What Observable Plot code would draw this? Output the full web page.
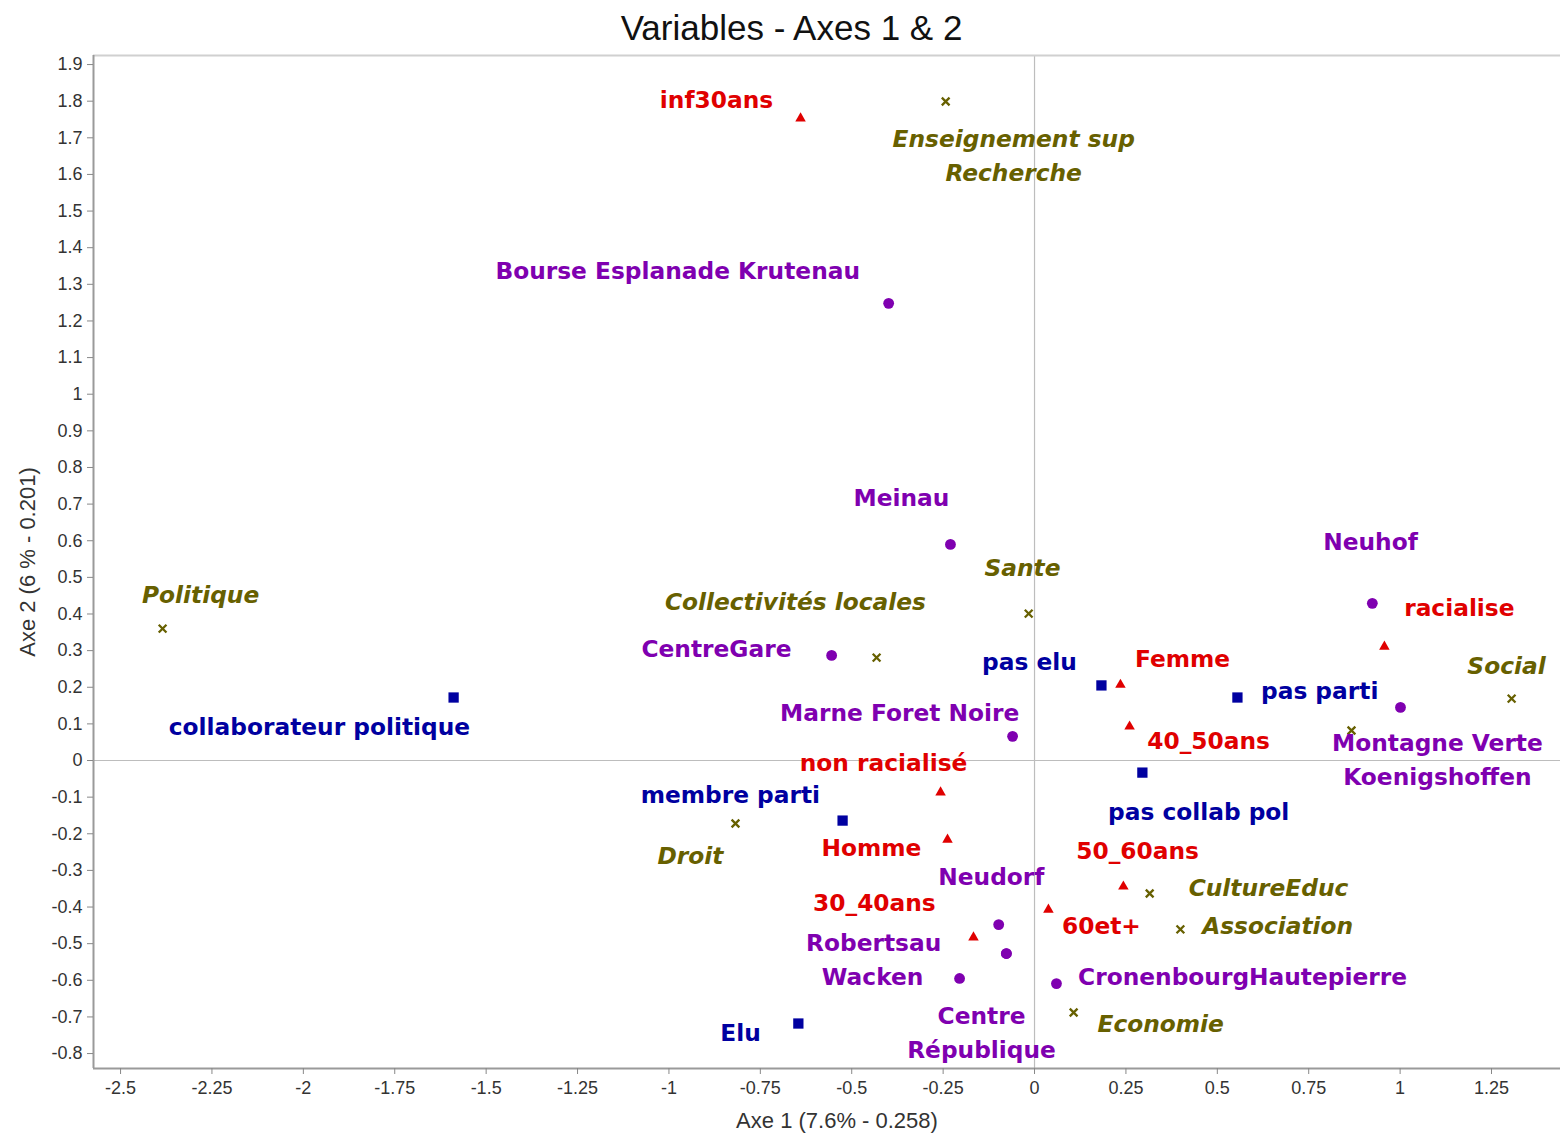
<!DOCTYPE html>
<html>
<head>
<meta charset="utf-8">
<script src="https://cdn.jsdelivr.net/npm/d3@7"></script>
<script src="https://cdn.jsdelivr.net/npm/@observablehq/plot@0.6"></script>
<style>
  body { margin: 0; background: #fff; }
  #title { width: 1561px; height: 50px; box-sizing: border-box; padding-left: 22px; text-align: center;
           font-family: "Liberation Sans", Arial, sans-serif; font-size: 35px; line-height: 56px; color: #111; }
  svg { display: block; }
</style>
</head>
<body>
<div id="title">Variables - Axes 1 &amp; 2</div>
<div id="chart"></div>
<script>
// ---- Data ----
const xTicks = [-2.5, -2.25, -2, -1.75, -1.5, -1.25, -1, -0.75, -0.5, -0.25, 0, 0.25, 0.5, 0.75, 1, 1.25];
const yTicks = [1.9, 1.8, 1.7, 1.6, 1.5, 1.4, 1.3, 1.2, 1.1, 1, 0.9, 0.8, 0.7, 0.6, 0.5, 0.4, 0.3, 0.2, 0.1, 0,
                -0.1, -0.2, -0.3, -0.4, -0.5, -0.6, -0.7, -0.8];
const xDomain = [-2.574, 1.4387];
const yDomain = [-0.8408, 1.9247];
const xTitle = "Axe 1 (7.6% - 0.258)";
const yTitle = "Axe 2 (6 % - 0.201)";

// Red triangles: age, gender, racialisation
const ageNames  = ["inf30ans", "racialise", "Femme", "40_50ans", "non racialisé", "Homme", "50_60ans", "60et+", "30_40ans"];
const ageX      = [-0.640, 0.957, 0.235, 0.260, -0.257, -0.238, 0.243, 0.038, -0.167];
const ageY      = [1.753, 0.311, 0.207, 0.093, -0.087, -0.216, -0.344, -0.407, -0.483];
const ageLabelX = [-0.870, 1.162, 0.405, 0.476, -0.413, -0.446, 0.282, 0.183, -0.438];
const ageLabelY = [1.802, 0.415, 0.276, 0.052, -0.008, -0.238, -0.248, -0.453, -0.390];

// Blue squares: elected / party / collaborator
const polNames  = ["collaborateur politique", "pas elu", "pas parti", "pas collab pol", "membre parti", "Elu"];
const polX      = [-1.589, 0.183, 0.555, 0.295, -0.525, -0.646];
const polY      = [0.172, 0.205, 0.172, -0.033, -0.164, -0.718];
const polLabelX = [-1.956, -0.014, 0.780, 0.449, -0.832, -0.804];
const polLabelY = [0.090, 0.268, 0.188, -0.142, -0.096, -0.745];

// Purple circles: districts
const qNames  = ["Bourse Esplanade Krutenau", "Meinau", "Neuhof", "CentreGare", "Montagne Verte\nKoenigshoffen",
                 "Marne Foret Noire", "Neudorf", "Robertsau", "Wacken", "CronenbourgHautepierre", "Centre\nRépublique"];
const qX      = [-0.399, -0.230, 0.924, -0.555, 1.001, -0.060, -0.098, -0.077, -0.205, 0.060, -0.077];
const qY      = [1.248, 0.590, 0.429, 0.287, 0.145, 0.066, -0.448, -0.527, -0.595, -0.609, -0.527];
const qLabelX = [-0.976, -0.364, 0.919, -0.870, 1.102, -0.369, -0.118, -0.440, -0.443, 0.569, -0.145];
const qLabelY = [1.335, 0.715, 0.595, 0.303, 0.000, 0.128, -0.319, -0.500, -0.592, -0.592, -0.745];

// Olive crosses: sectors
const sNames  = ["Enseignement sup\nRecherche", "Politique", "Sante", "Collectivités locales", "Social", "",
                 "Droit", "CultureEduc", "Association", "Economie"];
const sX      = [-0.243, -2.385, -0.016, -0.432, 1.305, 0.867, -0.818, 0.315, 0.399, 0.107];
const sY      = [1.799, 0.360, 0.401, 0.281, 0.169, 0.082, -0.172, -0.363, -0.461, -0.688];
const sLabelX = [-0.057, -2.281, -0.033, -0.654, 1.291, 0.867, -0.941, 0.640, 0.665, 0.345];
const sLabelY = [1.649, 0.450, 0.524, 0.431, 0.257, 0.082, -0.262, -0.349, -0.453, -0.721];

// ---- Build tables ----
const table = (names, xs, ys, lxs, lys) => names.map((name, i) => ({name, x: xs[i], y: ys[i], lx: lxs[i], ly: lys[i]}));
const age = table(ageNames, ageX, ageY, ageLabelX, ageLabelY);
const pol = table(polNames, polX, polY, polLabelX, polLabelY);
const quart = table(qNames, qX, qY, qLabelX, qLabelY);
const sect = table(sNames, sX, sY, sLabelX, sLabelY);

const RED = "#e00000", BLUE = "#0000a0", PURPLE = "#7f00b0", OLIVE = "#676000";
const labelFont = {fontFamily: "DejaVu Sans, Verdana, sans-serif", fontSize: 23.3, fontWeight: "bold", lineHeight: 1.45, dy: -3};

const chart = Plot.plot({
  width: 1561,
  height: 1083,
  marginTop: 5,
  marginBottom: 65,
  marginLeft: 93,
  marginRight: 1,
  style: {fontFamily: "Liberation Sans, Arial, sans-serif", color: "#333", background: "#fff"},
  x: {domain: xDomain},
  y: {domain: yDomain},
  marks: [
    // zero lines
    Plot.ruleX([0], {stroke: "#bdbdbd", strokeWidth: 1.2}),
    Plot.ruleY([0], {stroke: "#bdbdbd", strokeWidth: 1.2}),
    // frame
    Plot.ruleY([yDomain[1]], {stroke: "#d0d0d0", strokeWidth: 2}),
    Plot.ruleX([xDomain[0]], {stroke: "#9a9a9a", strokeWidth: 2}),
    Plot.ruleY([yDomain[0]], {stroke: "#9a9a9a", strokeWidth: 2}),
    // axes
    Plot.axisX(xTicks, {tickFormat: d => String(d), tickSize: 6, tickPadding: 7, fontSize: 18, stroke: "#888", fill: "#333", label: null}),
    Plot.axisY(yTicks, {tickFormat: d => String(d), tickSize: 6, tickPadding: 5, fontSize: 18, stroke: "#888", fill: "#333", label: null}),
    Plot.text([xTitle], {frameAnchor: "bottom", lineAnchor: "middle", textAnchor: "middle", dy: 52, dx: 10, fontSize: 22, fill: "#333"}),
    Plot.text([yTitle], {frameAnchor: "left", textAnchor: "middle", lineAnchor: "middle", dx: -66, rotate: -90, fontSize: 22, fill: "#333"}),
    // points
    Plot.dot(age, {x: "x", y: "y", symbol: "triangle", r: 3.9, fill: RED}),
    Plot.dot(pol, {x: "x", y: "y", symbol: "square", r: 5.8, fill: BLUE}),
    Plot.dot(quart, {x: "x", y: "y", symbol: "circle", r: 5.4, fill: PURPLE}),
    Plot.dot(sect, {x: "x", y: "y", symbol: "times", r: 3.6, stroke: OLIVE, strokeWidth: 2.3}),
    // labels
    Plot.text(age, {x: "lx", y: "ly", text: "name", fill: RED, ...labelFont}),
    Plot.text(pol, {x: "lx", y: "ly", text: "name", fill: BLUE, ...labelFont}),
    Plot.text(quart, {x: "lx", y: "ly", text: "name", fill: PURPLE, ...labelFont}),
    Plot.text(sect, {x: "lx", y: "ly", text: "name", fill: OLIVE, fontStyle: "italic", ...labelFont})
  ]
});
document.getElementById("chart").appendChild(chart);
</script>
</body>
</html>
